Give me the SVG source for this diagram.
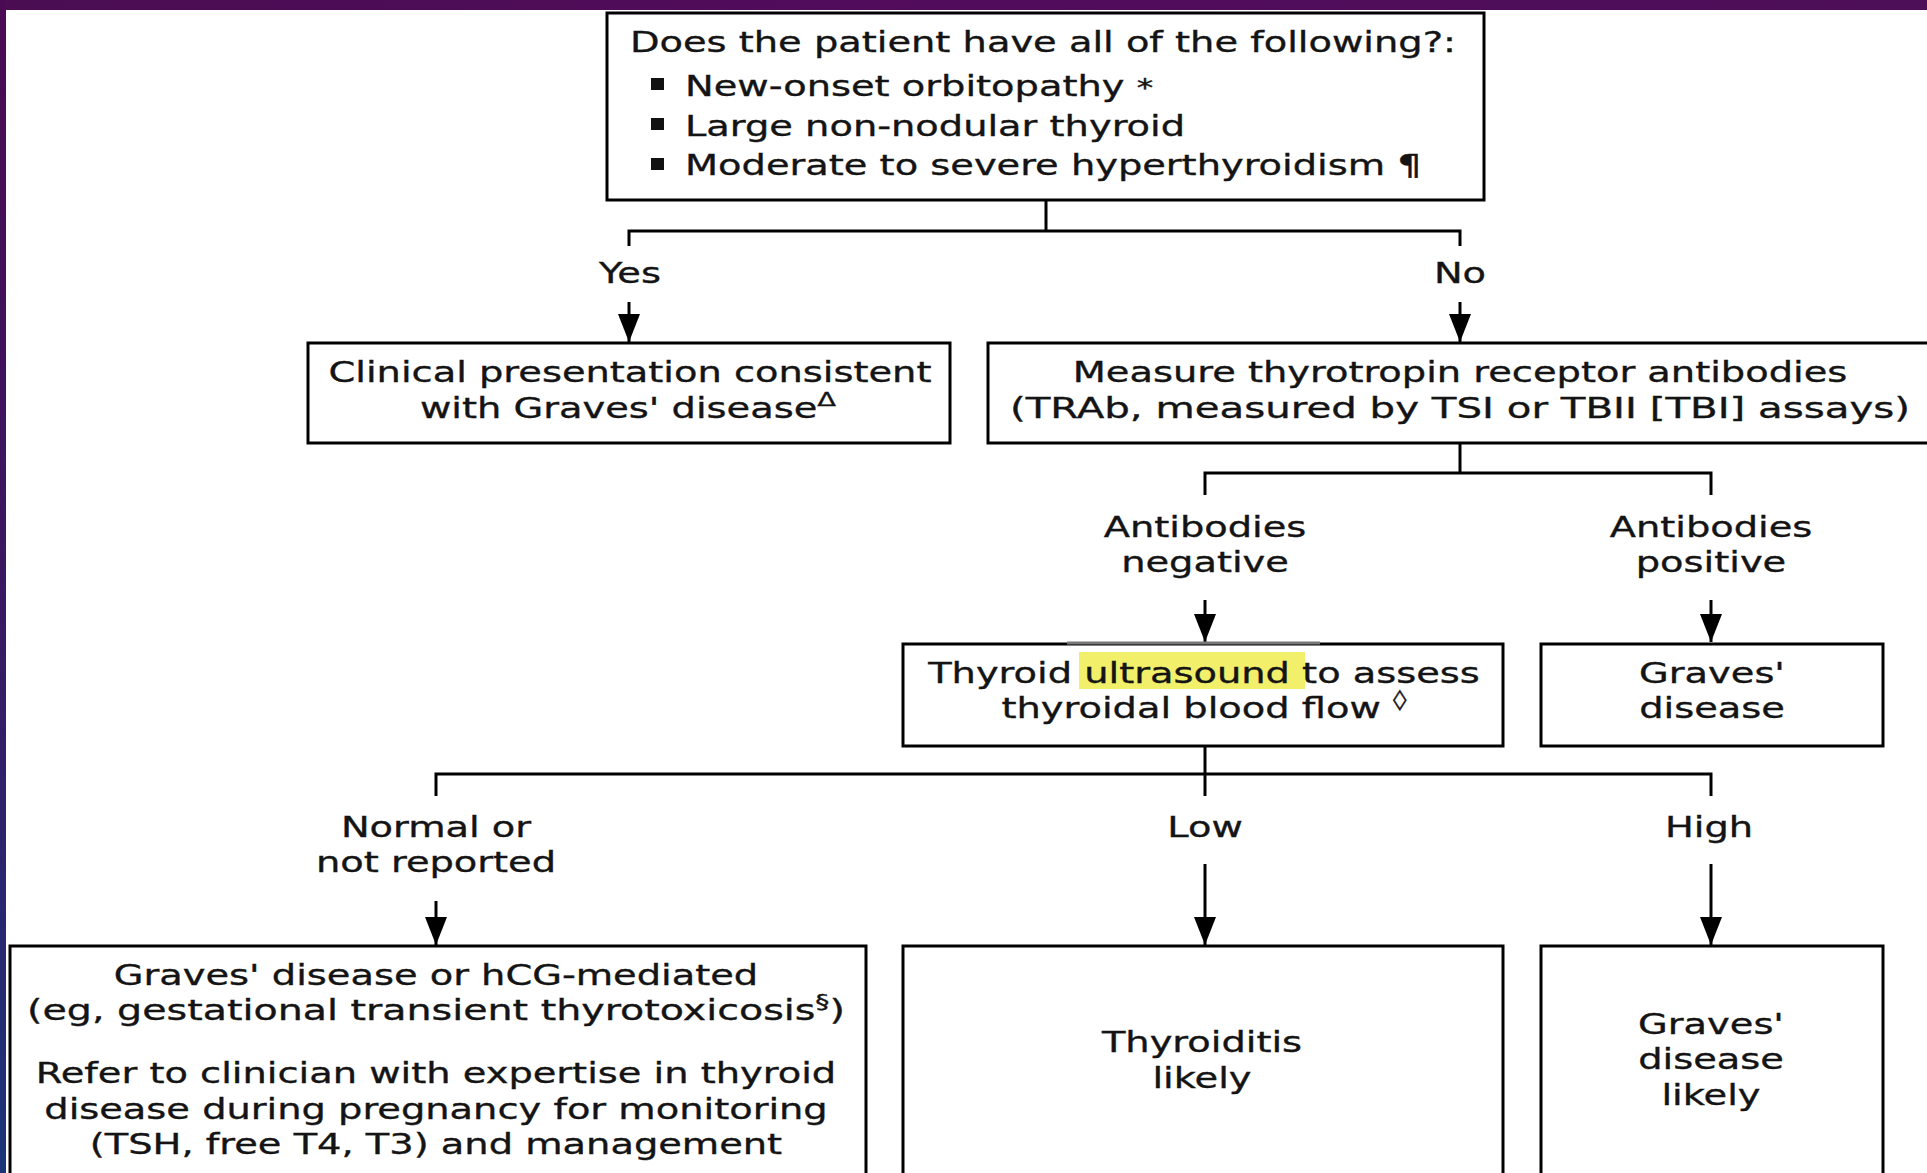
<svg xmlns="http://www.w3.org/2000/svg" width="1927" height="1173" viewBox="0 0 1927 1173">
  <defs>
    <linearGradient id="topband" x1="0" y1="0" x2="1" y2="0">
      <stop offset="0" stop-color="#4a0d52"/>
      <stop offset="0.5" stop-color="#520c5c"/>
      <stop offset="1" stop-color="#4d0f58"/>
    </linearGradient>
    <linearGradient id="leftband" x1="0" y1="0" x2="0" y2="1">
      <stop offset="0" stop-color="#4a0b52"/>
      <stop offset="0.5" stop-color="#3a1762"/>
      <stop offset="1" stop-color="#1b3478"/>
    </linearGradient>
    <marker id="arrow" markerUnits="userSpaceOnUse" markerWidth="28" markerHeight="22" viewBox="0 0 28 22" refX="28" refY="11" orient="auto">
      <path d="M0,0 L28,11 L0,22 Z" fill="#000"/>
    </marker>
    <style>
      .box { fill: #fff; stroke: #000; stroke-width: 3; }
      .line { fill: none; stroke: #000; stroke-width: 3; }
      .arr { fill: none; stroke: #000; stroke-width: 3; marker-end: url(#arrow); }
      .t { font-family: "DejaVu Sans", Verdana, sans-serif; font-size: 28px; fill: #141414; stroke: #141414; stroke-width: 0.35; }
      .c { text-anchor: middle; }
      .sup { font-size: 20px; }
      .bullet { fill: #111; }
    </style>
  </defs>

  <rect x="0" y="0" width="1927" height="1173" fill="#fff"/>
  <rect x="0" y="0" width="1927" height="10" fill="url(#topband)"/>
  <rect x="0" y="0" width="6" height="1173" fill="url(#leftband)"/>

  <g id="connectors">
    <polyline class="line" points="1046,200 1046,231"/>
    <polyline class="line" points="629,246 629,231 1460,231 1460,246"/>
    <line class="arr" x1="629" y1="302" x2="629" y2="342"/>
    <line class="arr" x1="1460" y1="302" x2="1460" y2="342"/>
    <text class="t c" transform="matrix(1.37 0 0 1 630 0)" y="283">Yes</text>
    <text class="t c" transform="matrix(1.37 0 0 1 1460 0)" y="283">No</text>

    <polyline class="line" points="1460,443 1460,473"/>
    <polyline class="line" points="1205,495 1205,473 1711,473 1711,495"/>
    <text class="t c" transform="matrix(1.37 0 0 1 1205 0)" y="537">Antibodies</text>
    <text class="t c" transform="matrix(1.37 0 0 1 1205 0)" y="572">negative</text>
    <text class="t c" transform="matrix(1.37 0 0 1 1711 0)" y="537">Antibodies</text>
    <text class="t c" transform="matrix(1.37 0 0 1 1711 0)" y="572">positive</text>
    <line class="arr" x1="1205" y1="600" x2="1205" y2="642"/>
    <line class="arr" x1="1711" y1="600" x2="1711" y2="642"/>

    <polyline class="line" points="1205,746 1205,796"/>
    <polyline class="line" points="436,796 436,774 1711,774 1711,796"/>
    <text class="t c" transform="matrix(1.37 0 0 1 436 0)" y="837">Normal or</text>
    <text class="t c" transform="matrix(1.37 0 0 1 436 0)" y="872">not reported</text>
    <text class="t c" transform="matrix(1.37 0 0 1 1205 0)" y="837">Low</text>
    <text class="t c" transform="matrix(1.37 0 0 1 1709 0)" y="837">High</text>
    <line class="arr" x1="436" y1="901" x2="436" y2="945"/>
    <line class="arr" x1="1205" y1="864" x2="1205" y2="945"/>
    <line class="arr" x1="1711" y1="864" x2="1711" y2="945"/>
  </g>

  <g id="question">
    <rect class="box" x="607" y="13" width="877" height="187"/>
    <text class="t" transform="matrix(1.37 0 0 1 630 0)" y="52">Does the patient have all of the following?:</text>
    <rect class="bullet" x="651" y="78" width="13" height="12"/>
    <text class="t" transform="matrix(1.37 0 0 1 685 0)" y="96">New-onset orbitopathy <tspan font-size="24">*</tspan></text>
    <rect class="bullet" x="651" y="118" width="13" height="12"/>
    <text class="t" transform="matrix(1.37 0 0 1 685 0)" y="136">Large non-nodular thyroid</text>
    <rect class="bullet" x="651" y="158" width="13" height="12"/>
    <text class="t" transform="matrix(1.37 0 0 1 685 0)" y="175">Moderate to severe hyperthyroidism ¶</text>
  </g>

  <g id="clinical">
    <rect class="box" x="308" y="343" width="642" height="100"/>
    <text class="t c" transform="matrix(1.37 0 0 1 630 0)" y="382">Clinical presentation consistent</text>
    <text class="t c" transform="matrix(1.37 0 0 1 628 0)" y="418">with Graves' disease<tspan class="sup" dy="-12">Δ</tspan></text>
  </g>

  <g id="measure">
    <rect class="box" x="988" y="343" width="960" height="100"/>
    <text class="t c" transform="matrix(1.37 0 0 1 1460 0)" y="382">Measure thyrotropin receptor antibodies</text>
    <text class="t c" transform="matrix(1.37 0 0 1 1460 0)" y="418" textLength="657" lengthAdjust="spacingAndGlyphs">(TRAb, measured by TSI or TBII [TBI] assays)</text>
  </g>

  <g id="ultrasound">
    <rect class="box" x="903" y="644" width="600" height="102"/>
    <line x1="1067" y1="643" x2="1320" y2="643" stroke="#777" stroke-width="3"/>
    <rect x="1079" y="652" width="226" height="37" fill="#f2f06a"/>
    <text class="t c" transform="matrix(1.37 0 0 1 1204 0)" y="683">Thyroid ultrasound to assess</text>
    <text class="t c" transform="matrix(1.37 0 0 1 1204 0)" y="718">thyroidal blood flow <tspan class="sup" dy="-12">◊</tspan></text>
  </g>

  <g id="graves">
    <rect class="box" x="1541" y="644" width="342" height="102"/>
    <text class="t c" transform="matrix(1.37 0 0 1 1712 0)" y="683">Graves'</text>
    <text class="t c" transform="matrix(1.37 0 0 1 1712 0)" y="718">disease</text>
  </g>

  <g id="normal-result">
    <rect class="box" x="10" y="946" width="856" height="260"/>
    <text class="t c" transform="matrix(1.37 0 0 1 436 0)" y="985">Graves' disease or hCG-mediated</text>
    <text class="t c" transform="matrix(1.37 0 0 1 436 0)" y="1020" textLength="597" lengthAdjust="spacingAndGlyphs">(eg, gestational transient thyrotoxicosis<tspan class="sup" dy="-12">§</tspan><tspan dy="12">)</tspan></text>
    <text class="t c" transform="matrix(1.37 0 0 1 436 0)" y="1083">Refer to clinician with expertise in thyroid</text>
    <text class="t c" transform="matrix(1.37 0 0 1 436 0)" y="1119">disease during pregnancy for monitoring</text>
    <text class="t c" transform="matrix(1.37 0 0 1 436 0)" y="1154">(TSH, free T4, T3) and management</text>
  </g>

  <g id="thyroiditis">
    <rect class="box" x="903" y="946" width="600" height="260"/>
    <text class="t c" transform="matrix(1.37 0 0 1 1202 0)" y="1052">Thyroiditis</text>
    <text class="t c" transform="matrix(1.37 0 0 1 1202 0)" y="1088">likely</text>
  </g>

  <g id="graves-likely">
    <rect class="box" x="1541" y="946" width="342" height="260"/>
    <text class="t c" transform="matrix(1.37 0 0 1 1711 0)" y="1034">Graves'</text>
    <text class="t c" transform="matrix(1.37 0 0 1 1711 0)" y="1069">disease</text>
    <text class="t c" transform="matrix(1.37 0 0 1 1711 0)" y="1105">likely</text>
  </g>
</svg>
